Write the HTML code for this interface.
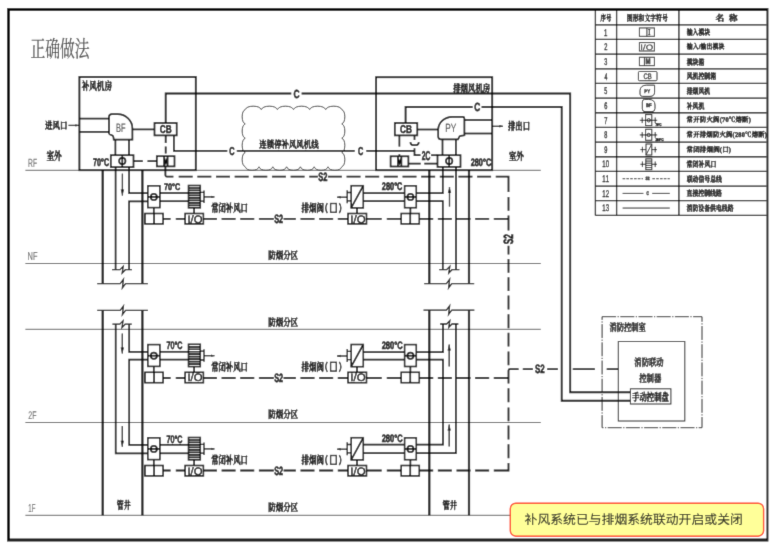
<!DOCTYPE html>
<html lang="zh"><head><meta charset="utf-8"><title>正确做法</title>
<style>
html,body{margin:0;padding:0;background:#fff}
svg{display:block}
text{font-family:"Liberation Sans",sans-serif;font-kerning:none;text-rendering:geometricPrecision}
text.cs{font-family:"Liberation Serif","Noto Serif CJK SC",serif}
text.cg{font-family:"Liberation Sans","Noto Sans CJK SC",sans-serif}
.l{fill:none;stroke:#0c0c0c;stroke-width:1.7}
.k{fill:none;stroke:#0c0c0c;stroke-width:1.85}
.t{fill:none;stroke:#111;stroke-width:1.3}
.u{fill:none;stroke:#242424;stroke-width:1}
.d{fill:none;stroke:#0c0c0c;stroke-width:1.8}
.f{fill:none;stroke:#5e5e5e;stroke-width:1}
.s{fill:none;stroke:#0a0a0a;stroke-width:2.2}
.g{fill:none;stroke:#262626;stroke-width:.9}
.w{fill:#fff;stroke:#0c0c0c;stroke-width:1.55}
</style></head>
<body>
<svg width="772" height="548" viewBox="0 0 772 548">
<defs><filter id="soft" x="0" y="0" width="772" height="548" filterUnits="userSpaceOnUse"><feConvolveMatrix order="3" kernelMatrix="0.012 0.086 0.012 0.086 0.608 0.086 0.012 0.086 0.012" edgeMode="duplicate" preserveAlpha="true"/></filter></defs>
<g filter="url(#soft)">
<rect width="772" height="548" fill="#fff"/>
<path class="f" d="M25.4 170.3L540.8 170.3"/>
<path class="f" d="M25.4 263.5L540.8 263.5"/>
<path class="f" d="M25.4 329.3L540.8 329.3"/>
<path class="f" d="M25.4 422.5L540.8 422.5"/>
<path class="f" d="M25.4 515.3L540.8 515.3"/>
<text transform="matrix(0.3386 0 0 0.5887 28.04 166.9)" font-size="20" font-weight="normal" fill="#6e6e6e" stroke="#6e6e6e" stroke-width="0.27">RF</text>
<text transform="matrix(0.3716 0 0 0.5814 27.59 259.9)" font-size="20" font-weight="normal" fill="#6e6e6e" stroke="#6e6e6e" stroke-width="0.26">NF</text>
<text transform="matrix(0.3483 0 0 0.5585 28.35 419.4)" font-size="20" font-weight="normal" fill="#6e6e6e" stroke="#6e6e6e" stroke-width="0.27">2F</text>
<text transform="matrix(0.3045 0 0 0.5814 28.34 511.8)" font-size="20" font-weight="normal" fill="#6e6e6e" stroke="#6e6e6e" stroke-width="0.29">1F</text>
<text class="cs" transform="matrix(0.7415 0 0 1.1425 30.38 57.39)" font-size="20" font-weight="normal" fill="#484848" stroke="#484848" stroke-width="0.2" stroke-linejoin="round">正确做法</text>
<rect class="k" x="79.4" y="77" width="116.4" height="93.2"/>
<text class="cs" transform="matrix(0.379 0 0 0.5555 81.69 89.98)" font-size="20" font-weight="bold" fill="#111" stroke="#111" stroke-width="0.92" stroke-linejoin="round">补风机房</text>
<text class="cs" transform="matrix(0.374 0 0 0.4955 45.07 129.3)" font-size="20" font-weight="bold" fill="#111" stroke="#111" stroke-width="0.98" stroke-linejoin="round">进风口</text>
<path class="t" d="M68.5 125.4L79 125.4"/>
<path fill="#111" d="M79 125.4L75.4 126.6L75.4 124.2Z"/>
<text class="cs" transform="matrix(0.3845 0 0 0.564 46.38 159.67)" font-size="20" font-weight="bold" fill="#111" stroke="#111" stroke-width="0.9" stroke-linejoin="round">室外</text>
<path class="l" d="M79.4 118.6L109 118.6"/>
<path class="l" d="M79.4 131.9L109 131.9"/>
<path class="l" d="M109 133.6L109 117Q109 114.2 111.8 114.2L117.6 114.2A14.8 14.1 0 0 1 132.4 128.3L132.4 139.6L113.7 139.6L113.5 137.4Q113.3 135.6 111.6 135.2Q109.3 134.7 109 133.6Z"/>
<text transform="matrix(0.3720 0 0 0.6177 115.99 131.7)" font-size="20" font-weight="normal" fill="#505050" stroke="#505050" stroke-width="0.31">BF</text>
<path class="l" d="M115.4 139.6L115.4 155.2"/>
<path class="l" d="M129 139.6L129 155.2"/>
<rect class="l" x="110.8" y="155.2" width="22.7" height="11.9"/>
<circle class="l" cx="122.3" cy="161.1" r="3.2"/>
<path class="l" d="M122.3 155.2L122.3 167.1"/>
<text transform="matrix(0.3581 0 0 0.5579 93.09 166.39)" font-size="20" font-weight="bold" fill="#111" stroke="#111" stroke-width="1.01">70°C</text>
<path class="l" d="M132.4 129.4L154.5 129.4"/>
<rect class="l" x="154.5" y="123" width="22.2" height="12.4"/>
<text transform="matrix(0.4124 0 0 0.5650 159.86 133.19)" font-size="20" font-weight="bold" fill="#111" stroke="#111" stroke-width="0.93">CB</text>
<path class="k" d="M165.7 123L165.7 93.5L291.3 93.5"/>
<path class="k" d="M301.6 93.5L570.2 93.5L570.2 392.2L630.4 392.2"/>
<text transform="matrix(0.4206 0 0 0.5862 293.55 97.59)" font-size="20" font-weight="bold" fill="#111" stroke="#111" stroke-width="0.91">C</text>
<path class="l" d="M173.9 135.4L173.9 150.8L227.3 150.8"/>
<path class="l" d="M236.8 150.8L354.7 150.8"/>
<text transform="matrix(0.3671 0 0 0.5720 229.2 155.19)" font-size="20" font-weight="bold" fill="#111" stroke="#111" stroke-width="0.98">C</text>
<text transform="matrix(0.3671 0 0 0.5720 358 155.19)" font-size="20" font-weight="bold" fill="#111" stroke="#111" stroke-width="0.98">C</text>
<path class="l" d="M366.3 150.8L414.5 150.8"/>
<path class="d" d="M165.7 135.4L165.7 143M165.7 146.6L165.7 153.6"/>
<rect class="l" x="156.8" y="156.2" width="17.7" height="10.2"/>
<path class="l" d="M164.1 166.4V156.2M167.6 166.4V156.2M164.1 157.6L165.85 163L167.6 157.6"/>
<path class="d" d="M133.5 161.1L142.8 161.1M147.5 161.1L156.8 161.1"/>
<path class="g" d="M245.2 109.6A8.29 4.47 0 0 1 261.3 109.6A8.29 4.47 0 0 1 277.4 109.6A8.29 4.47 0 0 1 293.5 109.6A8.29 4.47 0 0 1 309.6 109.6A8.29 4.47 0 0 1 325.7 109.6A8.29 4.47 0 0 1 341.8 109.6A3.95 7.36 0 0 1 341.8 123.9A3.95 7.36 0 0 1 341.8 138.2A3.95 7.36 0 0 1 341.8 152.5A3.95 7.36 0 0 1 341.8 166.8A7.11 4.61 0 0 1 328 166.8A7.11 4.61 0 0 1 314.2 166.8A7.11 4.61 0 0 1 300.4 166.8A7.11 4.61 0 0 1 286.6 166.8A7.11 4.61 0 0 1 272.8 166.8A7.11 4.61 0 0 1 259 166.8A7.11 4.61 0 0 1 245.2 166.8A3.95 7.36 0 0 1 245.2 152.5A3.95 7.36 0 0 1 245.2 138.2A3.95 7.36 0 0 1 245.2 123.9A3.95 7.36 0 0 1 245.2 109.6Z"/>
<text class="cs" transform="matrix(0.37 0 0 0.4995 259.34 147.98)" font-size="20" font-weight="bold" fill="#111" stroke="#111" stroke-width="0.98" stroke-linejoin="round">连锁停补风风机线</text>
<rect class="k" x="376.1" y="77.2" width="116.1" height="93"/>
<text class="cs" transform="matrix(0.37 0 0 0.5185 453.2 91.65)" font-size="20" font-weight="bold" fill="#111" stroke="#111" stroke-width="0.96" stroke-linejoin="round">排烟风机房</text>
<rect class="l" x="394.8" y="123" width="22.5" height="12.4"/>
<text transform="matrix(0.4124 0 0 0.5650 400.06 133.19)" font-size="20" font-weight="bold" fill="#111" stroke="#111" stroke-width="0.93">CB</text>
<path class="k" d="M405.6 123L405.6 107L472.6 107"/>
<path class="k" d="M481.6 107L561.7 107L561.7 400.7L630.4 400.7"/>
<text transform="matrix(0.4206 0 0 0.5932 474.35 111.08)" font-size="20" font-weight="bold" fill="#111" stroke="#111" stroke-width="0.9">C</text>
<path class="l" d="M417.3 129.5L438.2 129.5"/>
<path class="l" d="M438.2 136.5L438.2 129.6A14.1 12.8 0 0 1 452.3 116.8L462.8 116.8Q464.4 116.8 464.4 118.4L464.4 135.3L460.6 135.8Q459.2 136 459 137.5L458 139.3L440.9 139.3Q438.2 139.3 438.2 136.5Z"/>
<text transform="matrix(0.4146 0 0 0.5959 445.22 132.4)" font-size="20" font-weight="normal" fill="#505050" stroke="#505050" stroke-width="0.3">PY</text>
<path class="l" d="M464.4 120L492.2 120"/>
<path class="l" d="M464.4 133.5L492.2 133.5"/>
<path class="t" d="M492.2 126.3L503 126.3"/>
<path fill="#111" d="M503 126.3L499.4 127.5L499.4 125.1Z"/>
<text class="cs" transform="matrix(0.3685 0 0 0.538 507.9 129.63)" font-size="20" font-weight="bold" fill="#111" stroke="#111" stroke-width="0.94" stroke-linejoin="round">排出口</text>
<text class="cs" transform="matrix(0.3795 0 0 0.532 508.68 160.43)" font-size="20" font-weight="bold" fill="#111" stroke="#111" stroke-width="0.94" stroke-linejoin="round">室外</text>
<path class="l" d="M442.5 139.3L442.5 155.2"/>
<path class="l" d="M455.9 139.3L455.9 155.2"/>
<rect class="l" x="437.5" y="155.2" width="23" height="11.7"/>
<circle class="l" cx="449.2" cy="161.1" r="3.2"/>
<path class="l" d="M449.2 155.2L449.2 166.9"/>
<text transform="matrix(0.3683 0 0 0.5438 470.64 166.39)" font-size="20" font-weight="bold" fill="#111" stroke="#111" stroke-width="1.01">280°C</text>
<rect class="l" x="390.6" y="156.3" width="17.8" height="10.2"/>
<path class="l" d="M397.9 166.5V156.3M401.4 166.5V156.3M397.9 157.7L399.65 163.1L401.4 157.7"/>
<path class="d" d="M408.4 163.7L420.7 163.7M424.3 163.7L437.5 163.7"/>
<path class="l" d="M399.4 135.4L399.4 146.6"/>
<path class="l" d="M399.4 154.2L399.4 156.3"/>
<path class="l" d="M410.4 142.2q0.3 3 2.6 3h3.2q2.3 0 2.6 -3"/>
<path class="l" d="M414.5 135.4L414.5 140"/>
<path class="l" d="M414.5 148.2L414.5 155.2L420.5 155.2"/>
<text transform="matrix(0.3371 0 0 0.6356 421.67 159.88)" font-size="20" font-weight="bold" fill="#111" stroke="#111" stroke-width="0.97">2C</text>
<path class="l" d="M431 155.2L437.5 155.2"/>
<path class="s" d="M102.7 170.2L102.7 283.6"/>
<path class="s" d="M142.4 170.2L142.4 283.6"/>
<path class="s" d="M102.7 310.7L102.7 515.3"/>
<path class="s" d="M142.4 310.7L142.4 515.3"/>
<path class="t" d="M97.2 283.6L120.2 283.6L123.4 279.3L122.4 287.9L125.6 283.6L147.9 283.6"/>
<path class="t" d="M97.2 310.4L120.2 310.4L123.4 306.1L122.4 314.7L125.6 310.4L147.9 310.4"/>
<path class="l" d="M115.6 167.1L115.6 269.7"/>
<path class="l" d="M129.1 167.1L129.1 193.1L147.8 193.1"/>
<path class="l" d="M147.8 201.3L129.1 201.3L129.1 269.7"/>
<path class="t" d="M112 269.7L120 269.7L123.2 266.4L122.2 273L125.4 269.7L132 269.7"/>
<path class="t" d="M112.4 324.2L119.8 324.2L123 320.9L122 327.5L125.2 324.2L131.8 324.2"/>
<path class="l" d="M115.7 324.4L115.7 453.3L147.8 453.3"/>
<path class="l" d="M129.2 324.4L129.2 351.8L147.8 351.8"/>
<path class="l" d="M147.8 359.6L129.2 359.6L129.2 444.8L147.8 444.8"/>
<path class="t" d="M122.4 173.6L122.4 195.6"/>
<path fill="#111" d="M122.4 195.6L120.7 189.6L124.1 189.6Z"/>
<path class="t" d="M122.3 333.5L122.3 353.6"/>
<path fill="#111" d="M122.3 353.6L120.6 347.6L124 347.6Z"/>
<path class="t" d="M122.3 425.9L122.3 446.8"/>
<path fill="#111" d="M122.3 446.8L120.6 440.8L124 440.8Z"/>
<text class="cs" transform="matrix(0.3475 0 0 0.539 116.79 509.12)" font-size="20" font-weight="bold" fill="#111" stroke="#111" stroke-width="0.98" stroke-linejoin="round">管井</text>
<path class="s" d="M429.3 170.2L429.3 283.6"/>
<path class="s" d="M469 170.2L469 283.6"/>
<path class="s" d="M429.3 310.2L429.3 515.3"/>
<path class="s" d="M469 310.2L469 515.3"/>
<path class="t" d="M424.2 283.6L446.4 283.6L449.6 279.3L448.6 287.9L451.8 283.6L474.2 283.6"/>
<path class="t" d="M423.5 310.2L446.4 310.2L449.6 305.9L448.6 314.5L451.8 310.2L474.4 310.2"/>
<path class="l" d="M456 166.9L456 269.7"/>
<path class="l" d="M442.8 166.9L442.8 193.1L416.3 193.1"/>
<path class="l" d="M416.3 201.1L442.8 201.1L442.8 269.7"/>
<path class="t" d="M439.2 269.7L446.6 269.7L449.8 266.4L448.8 273L452 269.7L459.4 269.7"/>
<path class="t" d="M440.1 324L446.6 324L449.8 320.7L448.8 327.3L452 324L458.4 324"/>
<path class="l" d="M455.9 324L455.9 453.2L416.3 453.2"/>
<path class="l" d="M443 324L443 352.1L416.3 352.1"/>
<path class="l" d="M416.3 359.6L443 359.6L443 444.7L416.3 444.7"/>
<path class="t" d="M449.5 206.6L449.5 187"/>
<path fill="#111" d="M449.5 187L451.2 193L447.8 193Z"/>
<path class="t" d="M449.2 366.4L449.2 344.4"/>
<path fill="#111" d="M449.2 344.4L450.9 350.4L447.5 350.4Z"/>
<path class="t" d="M449.2 446.6L449.2 424.6"/>
<path fill="#111" d="M449.2 424.6L450.9 430.6L447.5 430.6Z"/>
<text class="cs" transform="matrix(0.368 0 0 0.5235 442.48 509.25)" font-size="20" font-weight="bold" fill="#111" stroke="#111" stroke-width="0.96" stroke-linejoin="round">管井</text>
<path class="d" d="M163.1 218.8L170.6 218.8M175.8 218.8L185.1 218.8M203.4 218.8L216.95 218.8M221.6 218.8L235.6 218.8M240.25 218.8L254.25 218.8M258.9 218.8L273.8 218.8M283.6 218.8L295.85 218.8M300.5 218.8L314.5 218.8M319.15 218.8L333.15 218.8M337.8 218.8L348 218.8M366.5 218.8L381.7 218.8M386.8 218.8L401.2 218.8M419.2 218.8L433.2 218.8M437.85 218.8L451.85 218.8M456.5 218.8L470.5 218.8M475.15 218.8L489.15 218.8M493.8 218.8L508.6 218.8"/>
<text transform="matrix(0.3682 0 0 0.6073 274.19 222.98)" font-size="20" font-weight="bold" fill="#111" stroke="#111" stroke-width="0.95">S2</text>
<rect class="w" x="147.8" y="185.8" width="12.1" height="21.8"/>
<circle class="l" cx="153.85" cy="196.9" r="3.1"/>
<path class="l" d="M147.8 196.9L159.9 196.9"/>
<path class="l" d="M159.9 193L188.5 193"/>
<path class="l" d="M159.9 201.2L188.5 201.2"/>
<rect class="w" x="188.5" y="185.5" width="11.8" height="22.3"/>
<path class="l" d="M188.5 187.98H200.3M188.5 190.46H200.3M188.5 192.93H200.3M188.5 195.41H200.3M188.5 197.89H200.3M188.5 200.37H200.3M188.5 202.84H200.3M188.5 205.32H200.3" stroke-width="1.45"/>
<path class="t" d="M200.3 192.4H204M200.3 201.2H204M204 190.4V202.9"/>
<path class="t" d="M204 196.9L214.5 196.9"/>
<path fill="#111" d="M214.5 196.9L211.1 198L211.1 195.8Z"/>
<text transform="matrix(0.3651 0 0 0.4802 163.99 189.61)" font-size="20" font-weight="bold" fill="#111" stroke="#111" stroke-width="1.07">70°C</text>
<text class="cs" transform="matrix(0.3675 0 0 0.5505 211.13 212)" font-size="20" font-weight="bold" fill="#111" stroke="#111" stroke-width="0.94" stroke-linejoin="round">常闭补风口</text>
<path class="l" d="M153.8 207.6L153.8 213.5"/>
<path class="l" d="M194.1 207.8L194.1 213.5"/>
<rect class="w" x="145" y="213.5" width="18.1" height="10.4"/>
<path class="l" d="M154.05 213.5L154.05 223.9"/>
<path fill="#111" d="M152.35 223.9L154.05 221.9L155.75 223.9Z"/>
<rect class="w" x="185.1" y="213.5" width="18.3" height="10.4"/>
<text transform="matrix(0.5656 0 0 0.5311 187.46 222.5)" font-size="20" font-weight="normal" fill="#111" stroke="#111" stroke-width="0.82">I/O</text>
<rect class="w" x="351.2" y="185.7" width="12.1" height="22.2"/>
<path class="l" d="M351.2 207.9L363.3 185.7"/>
<path class="t" d="M351.2 192.5H347.2M351.2 200.9H347.2M347.2 190.3V203.3"/>
<path class="t" d="M347.2 197.2L337 197.2"/>
<path fill="#111" d="M337 197.2L340.6 195.95L340.6 198.45Z"/>
<path class="l" d="M363.3 193.2L404.6 193.2"/>
<path class="l" d="M363.3 201.2L404.6 201.2"/>
<rect class="w" x="404.6" y="185.8" width="11.7" height="21.9"/>
<circle class="l" cx="410.45" cy="196.9" r="3.1"/>
<path class="l" d="M404.6 196.9L416.3 196.9"/>
<text transform="matrix(0.3683 0 0 0.5508 381.84 189.89)" font-size="20" font-weight="bold" fill="#111" stroke="#111" stroke-width="1">280°C</text>
<g><title>排烟阀(口)</title>
<text class="cs" transform="matrix(0.3725 0 0 0.551 301.6 211.91)" font-size="20" font-weight="bold" fill="#111" stroke="#111" stroke-width="0.92" stroke-linejoin="round">排烟阀</text>
<path class="t" d="M327.3 203.1Q324.2 207.9 327.3 213.2"/>
<rect class="t" x="330.6" y="203.5" width="5.7" height="8.8"/>
<path class="t" d="M339.3 203.1Q342.4 207.9 339.3 213.2"/>
</g>
<path class="l" d="M357 207.9L357 213.5"/>
<path class="l" d="M410.4 207.7L410.4 213.5"/>
<rect class="w" x="348" y="213.5" width="18.5" height="10.4"/>
<text transform="matrix(0.5740 0 0 0.5311 350.34 222.5)" font-size="20" font-weight="normal" fill="#111" stroke="#111" stroke-width="0.82">I/O</text>
<rect class="w" x="401.2" y="213.5" width="18.1" height="10.4"/>
<path class="l" d="M410.25 213.5L410.25 223.9"/>
<path fill="#111" d="M408.55 223.9L410.25 221.9L411.95 223.9Z"/>
<path class="d" d="M163.1 378L170.6 378M175.8 378L185.1 378M203.4 378L216.95 378M221.6 378L235.6 378M240.25 378L254.25 378M258.9 378L273.8 378M283.6 378L295.85 378M300.5 378L314.5 378M319.15 378L333.15 378M337.8 378L348 378M366.5 378L381.7 378M386.8 378L401.2 378M419.2 378L433.2 378M437.85 378L451.85 378M456.5 378L470.5 378M475.15 378L489.15 378"/>
<text transform="matrix(0.3682 0 0 0.6073 274.19 382.18)" font-size="20" font-weight="bold" fill="#111" stroke="#111" stroke-width="0.95">S2</text>
<rect class="w" x="147.8" y="344.6" width="12.1" height="21.8"/>
<circle class="l" cx="153.85" cy="355.7" r="3.1"/>
<path class="l" d="M147.8 355.7L159.9 355.7"/>
<path class="l" d="M159.9 351.8L188.5 351.8"/>
<path class="l" d="M159.9 359.6L188.5 359.6"/>
<rect class="w" x="188.5" y="344.3" width="11.8" height="22.3"/>
<path class="l" d="M188.5 346.78H200.3M188.5 349.26H200.3M188.5 351.73H200.3M188.5 354.21H200.3M188.5 356.69H200.3M188.5 359.17H200.3M188.5 361.64H200.3M188.5 364.12H200.3" stroke-width="1.45"/>
<path class="t" d="M200.3 351.2H204M200.3 360H204M204 349.2V361.7"/>
<path class="t" d="M204 355.7L214.5 355.7"/>
<path fill="#111" d="M214.5 355.7L211.1 356.8L211.1 354.6Z"/>
<text transform="matrix(0.3604 0 0 0.5438 166.39 349.49)" font-size="20" font-weight="bold" fill="#111" stroke="#111" stroke-width="1.02">70°C</text>
<text class="cs" transform="matrix(0.3675 0 0 0.5505 211.13 370.8)" font-size="20" font-weight="bold" fill="#111" stroke="#111" stroke-width="0.94" stroke-linejoin="round">常闭补风口</text>
<path class="l" d="M153.8 366.4L153.8 372.3"/>
<path class="l" d="M194.1 366.6L194.1 372.3"/>
<rect class="w" x="145" y="372.3" width="18.1" height="10.4"/>
<path class="l" d="M154.05 372.3L154.05 382.7"/>
<path fill="#111" d="M152.35 382.7L154.05 380.7L155.75 382.7Z"/>
<rect class="w" x="185.1" y="372.3" width="18.3" height="10.4"/>
<text transform="matrix(0.5656 0 0 0.5311 187.46 381.3)" font-size="20" font-weight="normal" fill="#111" stroke="#111" stroke-width="0.82">I/O</text>
<rect class="w" x="351.2" y="344.5" width="12.1" height="22.2"/>
<path class="l" d="M351.2 366.7L363.3 344.5"/>
<path class="t" d="M351.2 351.3H347.2M351.2 359.7H347.2M347.2 349.1V362.1"/>
<path class="t" d="M347.2 356L337 356"/>
<path fill="#111" d="M337 356L340.6 354.75L340.6 357.25Z"/>
<path class="l" d="M363.3 352.1L404.6 352.1"/>
<path class="l" d="M363.3 359.6L404.6 359.6"/>
<rect class="w" x="404.6" y="344.6" width="11.7" height="21.9"/>
<circle class="l" cx="410.45" cy="355.7" r="3.1"/>
<path class="l" d="M404.6 355.7L416.3 355.7"/>
<text transform="matrix(0.3775 0 0 0.5438 381.64 349.19)" font-size="20" font-weight="bold" fill="#111" stroke="#111" stroke-width="0.99">280°C</text>
<g><title>排烟阀(口)</title>
<text class="cs" transform="matrix(0.3725 0 0 0.551 301.6 370.71)" font-size="20" font-weight="bold" fill="#111" stroke="#111" stroke-width="0.92" stroke-linejoin="round">排烟阀</text>
<path class="t" d="M327.3 361.9Q324.2 366.7 327.3 372"/>
<rect class="t" x="330.6" y="362.3" width="5.7" height="8.8"/>
<path class="t" d="M339.3 361.9Q342.4 366.7 339.3 372"/>
</g>
<path class="l" d="M357 366.7L357 372.3"/>
<path class="l" d="M410.4 366.5L410.4 372.3"/>
<rect class="w" x="348" y="372.3" width="18.5" height="10.4"/>
<text transform="matrix(0.5740 0 0 0.5311 350.34 381.3)" font-size="20" font-weight="normal" fill="#111" stroke="#111" stroke-width="0.82">I/O</text>
<rect class="w" x="401.2" y="372.3" width="18.1" height="10.4"/>
<path class="l" d="M410.25 372.3L410.25 382.7"/>
<path fill="#111" d="M408.55 382.7L410.25 380.7L411.95 382.7Z"/>
<path class="d" d="M163.1 470.5L170.6 470.5M175.8 470.5L185.1 470.5M203.4 470.5L216.95 470.5M221.6 470.5L235.6 470.5M240.25 470.5L254.25 470.5M258.9 470.5L273.8 470.5M283.6 470.5L295.85 470.5M300.5 470.5L314.5 470.5M319.15 470.5L333.15 470.5M337.8 470.5L348 470.5M366.5 470.5L381.7 470.5M386.8 470.5L401.2 470.5M419.2 470.5L433.2 470.5M437.85 470.5L451.85 470.5M456.5 470.5L470.5 470.5M475.15 470.5L489.15 470.5"/>
<text transform="matrix(0.3682 0 0 0.6073 274.19 474.68)" font-size="20" font-weight="bold" fill="#111" stroke="#111" stroke-width="0.95">S2</text>
<rect class="w" x="147.8" y="437.8" width="12.1" height="21.8"/>
<circle class="l" cx="153.85" cy="448.9" r="3.1"/>
<path class="l" d="M147.8 448.9L159.9 448.9"/>
<path class="l" d="M159.9 444.8L188.5 444.8"/>
<path class="l" d="M159.9 453.3L188.5 453.3"/>
<rect class="w" x="188.5" y="437.5" width="11.8" height="22.3"/>
<path class="l" d="M188.5 439.98H200.3M188.5 442.46H200.3M188.5 444.93H200.3M188.5 447.41H200.3M188.5 449.89H200.3M188.5 452.37H200.3M188.5 454.84H200.3M188.5 457.32H200.3" stroke-width="1.45"/>
<path class="t" d="M200.3 444.4H204M200.3 453.2H204M204 442.4V454.9"/>
<path class="t" d="M204 448.9L214.5 448.9"/>
<path fill="#111" d="M214.5 448.9L211.1 450L211.1 447.8Z"/>
<text transform="matrix(0.3604 0 0 0.5438 166.39 442.69)" font-size="20" font-weight="bold" fill="#111" stroke="#111" stroke-width="1.02">70°C</text>
<text class="cs" transform="matrix(0.3675 0 0 0.5505 211.13 464)" font-size="20" font-weight="bold" fill="#111" stroke="#111" stroke-width="0.94" stroke-linejoin="round">常闭补风口</text>
<path class="l" d="M153.8 459.6L153.8 465.5"/>
<path class="l" d="M194.1 459.8L194.1 465.5"/>
<rect class="w" x="145" y="465.5" width="18.1" height="10.4"/>
<path class="l" d="M154.05 465.5L154.05 475.9"/>
<path fill="#111" d="M152.35 475.9L154.05 473.9L155.75 475.9Z"/>
<rect class="w" x="185.1" y="465.5" width="18.3" height="10.4"/>
<text transform="matrix(0.5656 0 0 0.5311 187.46 474.5)" font-size="20" font-weight="normal" fill="#111" stroke="#111" stroke-width="0.82">I/O</text>
<rect class="w" x="351.2" y="437.7" width="12.1" height="22.2"/>
<path class="l" d="M351.2 459.9L363.3 437.7"/>
<path class="t" d="M351.2 444.5H347.2M351.2 452.9H347.2M347.2 442.3V455.3"/>
<path class="t" d="M347.2 449.2L337 449.2"/>
<path fill="#111" d="M337 449.2L340.6 447.95L340.6 450.45Z"/>
<path class="l" d="M363.3 444.7L404.6 444.7"/>
<path class="l" d="M363.3 453.2L404.6 453.2"/>
<rect class="w" x="404.6" y="437.8" width="11.7" height="21.9"/>
<circle class="l" cx="410.45" cy="448.9" r="3.1"/>
<path class="l" d="M404.6 448.9L416.3 448.9"/>
<text transform="matrix(0.3775 0 0 0.5438 381.64 442.39)" font-size="20" font-weight="bold" fill="#111" stroke="#111" stroke-width="0.99">280°C</text>
<g><title>排烟阀(口)</title>
<text class="cs" transform="matrix(0.3725 0 0 0.551 301.6 463.91)" font-size="20" font-weight="bold" fill="#111" stroke="#111" stroke-width="0.92" stroke-linejoin="round">排烟阀</text>
<path class="t" d="M327.3 455.1Q324.2 459.9 327.3 465.2"/>
<rect class="t" x="330.6" y="455.5" width="5.7" height="8.8"/>
<path class="t" d="M339.3 455.1Q342.4 459.9 339.3 465.2"/>
</g>
<path class="l" d="M357 459.9L357 465.5"/>
<path class="l" d="M410.4 459.7L410.4 465.5"/>
<rect class="w" x="348" y="465.5" width="18.5" height="10.4"/>
<text transform="matrix(0.5740 0 0 0.5311 350.34 474.5)" font-size="20" font-weight="normal" fill="#111" stroke="#111" stroke-width="0.82">I/O</text>
<rect class="w" x="401.2" y="465.5" width="18.1" height="10.4"/>
<path class="l" d="M410.25 465.5L410.25 475.9"/>
<path fill="#111" d="M408.55 475.9L410.25 473.9L411.95 475.9Z"/>
<text class="cs" transform="matrix(0.3745 0 0 0.517 268.15 259.36)" font-size="20" font-weight="bold" fill="#111" stroke="#111" stroke-width="0.96" stroke-linejoin="round">防烟分区</text>
<text class="cs" transform="matrix(0.3745 0 0 0.517 268.15 326.16)" font-size="20" font-weight="bold" fill="#111" stroke="#111" stroke-width="0.96" stroke-linejoin="round">防烟分区</text>
<text class="cs" transform="matrix(0.3745 0 0 0.517 268.15 417.96)" font-size="20" font-weight="bold" fill="#111" stroke="#111" stroke-width="0.96" stroke-linejoin="round">防烟分区</text>
<text class="cs" transform="matrix(0.3745 0 0 0.517 268.15 510.56)" font-size="20" font-weight="bold" fill="#111" stroke="#111" stroke-width="0.96" stroke-linejoin="round">防烟分区</text>
<path class="d" d="M165.4 166.4V175.2Q165.4 176.7 166.9 176.7H173.4"/>
<path class="d" d="M178.7 176.7L192.7 176.7M197.35 176.7L211.35 176.7M216 176.7L230 176.7M234.65 176.7L248.65 176.7M253.3 176.7L267.3 176.7M271.95 176.7L285.95 176.7M290.6 176.7L304.6 176.7M309.25 176.7L317.9 176.7M327.9 176.7L341.9 176.7M346.55 176.7L360.55 176.7M365.2 176.7L379.2 176.7M383.85 176.7L397.85 176.7M402.5 176.7L416.5 176.7M421.15 176.7L435.15 176.7M439.8 176.7L453.8 176.7M458.45 176.7L472.45 176.7M477.1 176.7L491.1 176.7"/>
<text transform="matrix(0.3769 0 0 0.6073 318.28 180.88)" font-size="20" font-weight="bold" fill="#111" stroke="#111" stroke-width="0.94">S2</text>
<path class="d" d="M495.75 176.7H508.5V191.9"/>
<path class="d" d="M508.5 197L508.5 210.8M508.5 215.5L508.5 230.6M508.5 245.8L508.5 254.6M508.5 259L508.5 272.8M508.5 277.3L508.5 291.1M508.5 295.6L508.5 309.4M508.5 314.3L508.5 328.2M508.5 332.7L508.5 346.6M508.5 351.4L508.5 365.3M508.5 388.2L508.5 402.3M508.5 407.4L508.5 421.2M508.5 425.6L508.5 439.6M508.5 444.2L508.5 458.3"/>
<text transform="rotate(-90 508.45 239.15) matrix(0.4202 0 0 0.6709 503.36 243.77)" font-size="20" font-weight="bold" fill="#111" stroke="#111" stroke-width="0.85">S2</text>
<path class="d" d="M493.8 378H508.5M508.5 383.6V370.4Q508.5 369.1 509.8 369.1H518.6"/>
<path class="d" d="M522.8 369.1L532.9 369.1M547.2 369.1L557.9 369.1M572.8 369.1L594.9 369.1M606.7 369.1L618.3 369.1"/>
<text transform="matrix(0.3985 0 0 0.6073 534.97 373.28)" font-size="20" font-weight="bold" fill="#111" stroke="#111" stroke-width="0.91">S2</text>
<path class="d" d="M493.8 470.5H508.5V463"/>
<rect class="u" x="602.1" y="316.7" width="99.9" height="111" stroke-dasharray="14 1.5 1.2 1.5" stroke="#555" stroke-width="1"/>
<rect class="u" x="618.3" y="341.5" width="66.5" height="79.5" stroke="#444" stroke-width="1.05"/>
<text class="cs" transform="matrix(0.363 0 0 0.5165 609.58 330.57)" font-size="20" font-weight="bold" fill="#2a2a2a" stroke="#2a2a2a" stroke-width="0.98" stroke-linejoin="round">消防控制室</text>
<text class="cs" transform="matrix(0.365 0 0 0.51 634.37 365.77)" font-size="20" font-weight="bold" fill="#2a2a2a" stroke="#2a2a2a" stroke-width="0.98" stroke-linejoin="round">消防联动</text>
<text class="cs" transform="matrix(0.368 0 0 0.51 639.17 382.06)" font-size="20" font-weight="bold" fill="#2a2a2a" stroke="#2a2a2a" stroke-width="0.96" stroke-linejoin="round">控制器</text>
<rect class="u" x="630.4" y="388.8" width="40.5" height="15.2" fill="#fff" stroke="#444" stroke-width="1.05"/>
<text class="cs" transform="matrix(0.3685 0 0 0.5415 632.11 401.21)" font-size="20" font-weight="bold" fill="#1a1a1a" stroke="#1a1a1a" stroke-width="0.94" stroke-linejoin="round">手动控制盘</text>
<path class="t" d="M595.4 10V215.38M616.6 10V215.38M678.9 10V215.38"/>
<path class="t" d="M595.4 24.8H766.5M595.4 39.46H766.5M595.4 54.12H766.5M595.4 68.78H766.5M595.4 83.44H766.5M595.4 98.1H766.5M595.4 112.76H766.5M595.4 127.42H766.5M595.4 142.08H766.5M595.4 156.74H766.5M595.4 171.4H766.5M595.4 186.06H766.5M595.4 200.72H766.5M595.4 215.38H766.5"/>
<text class="cs" transform="matrix(0.269 0 0 0.424 600.59 20.62)" font-size="20" font-weight="bold" fill="#222" stroke="#222" stroke-width="1.24" stroke-linejoin="round">序号</text>
<text class="cs" transform="matrix(0.2925 0 0 0.424 626.83 20.62)" font-size="20" font-weight="bold" fill="#222" stroke="#222" stroke-width="1.2" stroke-linejoin="round">图形和文字符号</text>
<text class="cs" transform="matrix(0.4435 0 0 0.4235 715.54 20.62)" x="0 30" font-size="20" font-weight="bold" fill="#222" stroke="#222" stroke-width="0.96" stroke-linejoin="round">名称</text>
<text transform="matrix(0.3015 0 0 0.4942 604.04 35.63)" font-size="20" font-weight="normal" fill="#222" stroke="#222" stroke-width="0.78">1</text>
<text class="cs" transform="matrix(0.293 0 0 0.3945 686.75 35.2)" font-size="20" font-weight="bold" fill="#222" stroke="#222" stroke-width="1.24" stroke-linejoin="round">输入模块</text>
<rect class="u" x="639.4" y="27.93" width="15" height="8.4"/>
<path class="u" d="M646.9 27.93V36.33"/>
<path class="u" d="M649.3 29.53V34.73M648.3 29.53H650.3M648.3 34.73H650.3"/>
<text transform="matrix(0.2854 0 0 0.4869 604.21 50.29)" font-size="20" font-weight="normal" fill="#222" stroke="#222" stroke-width="0.8">2</text>
<text class="cs" transform="matrix(0.294 0 0 0.362 686.75 49.29)" font-size="20" font-weight="bold" fill="#222" stroke="#222" stroke-width="1.28" stroke-linejoin="round" textLength="128" lengthAdjust="spacing">输入/输出模块</text>
<rect class="u" x="639.4" y="42.59" width="15" height="8.4"/>
<text transform="matrix(0.4776 0 0 0.3949 640.32 49.61)" font-size="20" font-weight="normal" fill="#222" stroke="#222" stroke-width="0.46">I/O</text>
<text transform="matrix(0.2742 0 0 0.4802 604.29 64.86)" font-size="20" font-weight="normal" fill="#222" stroke="#222" stroke-width="0.83">3</text>
<text class="cs" transform="matrix(0.2945 0 0 0.398 686.69 64.53)" font-size="20" font-weight="bold" fill="#222" stroke="#222" stroke-width="1.22" stroke-linejoin="round">模块箱</text>
<rect class="u" x="639.4" y="57.25" width="15" height="8.4"/>
<path class="u" d="M644.4 57.25V65.65"/>
<text transform="matrix(0.3003 0 0 0.4070 645.6 64.25)" font-size="20" font-weight="bold" fill="#333" stroke="#333" stroke-width="1.29">M</text>
<text transform="matrix(0.2580 0 0 0.4942 604.38 79.61)" font-size="20" font-weight="normal" fill="#222" stroke="#222" stroke-width="0.84">4</text>
<text class="cs" transform="matrix(0.2945 0 0 0.3975 686.64 79.18)" font-size="20" font-weight="bold" fill="#222" stroke="#222" stroke-width="1.22" stroke-linejoin="round">风机控制箱</text>
<rect class="u" x="638.4" y="71.51" width="18.6" height="9.2" rx="1"/>
<text transform="matrix(0.2956 0 0 0.3955 643.6 78.93)" font-size="20" font-weight="normal" fill="#222" stroke="#222" stroke-width="0.73">CB</text>
<text transform="matrix(0.2742 0 0 0.4873 604.28 94.17)" font-size="20" font-weight="normal" fill="#222" stroke="#222" stroke-width="0.82">5</text>
<text class="cs" transform="matrix(0.2935 0 0 0.3985 686.72 93.84)" font-size="20" font-weight="bold" fill="#222" stroke="#222" stroke-width="1.22" stroke-linejoin="round">排烟风机</text>
<path class="u" d="M640 94.17V90.37Q640.6 85.17 646.6 85.17H654.6V92.17Q654.6 96.37 650 96.37H642.6Q640 96.37 640 94.17Z"/>
<text transform="matrix(0.2158 0 0 0.2471 644.31 92.57)" font-size="20" font-weight="bold" fill="#444" stroke="#444" stroke-width="1.95">PY</text>
<text transform="matrix(0.2817 0 0 0.4802 604.21 108.84)" font-size="20" font-weight="normal" fill="#222" stroke="#222" stroke-width="0.82">6</text>
<text class="cs" transform="matrix(0.2935 0 0 0.398 686.71 108.5)" font-size="20" font-weight="bold" fill="#222" stroke="#222" stroke-width="1.22" stroke-linejoin="round">补风机</text>
<path class="u" d="M642.3 102.03Q642.3 99.43 644.5 99.43H648.6Q655 99.43 655 105.03V108.43Q655 111.63 652 111.63H645Q642.3 111.63 642.3 108.83Z"/>
<text transform="matrix(0.2115 0 0 0.2616 645.92 107.43)" font-size="20" font-weight="bold" fill="#333" stroke="#333" stroke-width="1.91">BF</text>
<text transform="matrix(0.2860 0 0 0.4942 604.21 123.59)" font-size="20" font-weight="normal" fill="#222" stroke="#222" stroke-width="0.8">7</text>
<text class="cs" transform="matrix(0.322 0 0 0.355 686.56 122.46)" font-size="20" font-weight="bold" fill="#222" stroke="#222" stroke-width="1.24" stroke-linejoin="round" textLength="199.6" lengthAdjust="spacing">常开防火阀(70℃熔断)</text>
<rect class="u" x="645.6" y="114.59" width="6.2" height="11"/>
<circle class="u" cx="648.7" cy="120.29" r="1.7"/>
<path class="u" d="M639.8 120.29H657.2M642.2 117.49V123.09M655.2 117.49V123.09"/>
<text transform="matrix(0.1340 0 0 0.1977 655.48 126.45)" font-size="20" font-weight="bold" fill="#222" stroke="#222" stroke-width="2.76">70°C</text>
<text transform="matrix(0.2770 0 0 0.4802 604.26 138.16)" font-size="20" font-weight="normal" fill="#222" stroke="#222" stroke-width="0.82">8</text>
<text class="cs" transform="matrix(0.3195 0 0 0.355 686.57 137.12)" font-size="20" font-weight="bold" fill="#222" stroke="#222" stroke-width="1.24" stroke-linejoin="round" textLength="251.6" lengthAdjust="spacing">常开排烟防火阀(280℃熔断)</text>
<rect class="u" x="645.6" y="129.25" width="6.2" height="11"/>
<circle class="u" cx="648.7" cy="134.95" r="1.7"/>
<path class="u" d="M639.8 134.95H657.2M642.2 132.15V137.75M655.2 132.15V137.75"/>
<text transform="matrix(0.1429 0 0 0.1977 655.5 141.11)" font-size="20" font-weight="bold" fill="#222" stroke="#222" stroke-width="2.68">280°C</text>
<text transform="matrix(0.2814 0 0 0.4802 604.24 152.82)" font-size="20" font-weight="normal" fill="#222" stroke="#222" stroke-width="0.82">9</text>
<text class="cs" transform="matrix(0.3265 0 0 0.355 686.56 151.78)" font-size="20" font-weight="bold" fill="#222" stroke="#222" stroke-width="1.24" stroke-linejoin="round" textLength="136" lengthAdjust="spacing">常闭排烟阀(口)</text>
<rect class="u" x="646" y="144.01" width="5.8" height="11"/>
<path class="u" d="M646 155.01L651.8 144.01M640.4 149.61H646M651.8 149.61H657M642.4 146.81V152.41M655.2 146.81V152.41"/>
<text transform="matrix(0.3009 0 0 0.4802 602.34 167.48)" font-size="20" font-weight="normal" fill="#222" stroke="#222" stroke-width="0.79">10</text>
<text class="cs" transform="matrix(0.298 0 0 0.397 686.58 167.15)" font-size="20" font-weight="bold" fill="#222" stroke="#222" stroke-width="1.22" stroke-linejoin="round">常闭补风口</text>
<rect class="u" x="645.8" y="158.87" width="6" height="10.8"/>
<path class="u" d="M645.8 161.07H651.8M645.8 163.17H651.8M645.8 165.37H651.8M645.8 167.57H651.8M640.4 164.27H645.8M651.8 164.27H657M642.4 161.47V167.07M655.2 161.47V167.07"/>
<text transform="matrix(0.3039 0 0 0.4942 602.34 182.23)" font-size="20" font-weight="normal" fill="#222" stroke="#222" stroke-width="0.77">11</text>
<text class="cs" transform="matrix(0.2935 0 0 0.396 686.69 181.81)" font-size="20" font-weight="bold" fill="#222" stroke="#222" stroke-width="1.24" stroke-linejoin="round">联动信号总线</text>
<path class="u" d="M622.6 178.73H643M652.4 178.73H669.8" stroke-dasharray="2.6 1.2"/>
<text transform="matrix(0.1733 0 0 0.2401 645.5 180.48)" font-size="20" font-weight="bold" fill="#333" stroke="#333" stroke-width="2.21">S2</text>
<text transform="matrix(0.3043 0 0 0.4869 602.34 196.89)" font-size="20" font-weight="normal" fill="#222" stroke="#222" stroke-width="0.78">12</text>
<text class="cs" transform="matrix(0.2945 0 0 0.397 686.56 196.47)" font-size="20" font-weight="bold" fill="#222" stroke="#222" stroke-width="1.22" stroke-linejoin="round">直接控制线路</text>
<path class="u" d="M622.6 193.39H643.4M652.2 193.39H669.8"/>
<text transform="matrix(0.1682 0 0 0.2684 646.46 195.34)" font-size="20" font-weight="bold" fill="#333" stroke="#333" stroke-width="2.12">C</text>
<text transform="matrix(0.3024 0 0 0.4802 602.34 211.46)" font-size="20" font-weight="normal" fill="#222" stroke="#222" stroke-width="0.79">13</text>
<text class="cs" transform="matrix(0.293 0 0 0.3985 686.62 211.12)" font-size="20" font-weight="bold" fill="#222" stroke="#222" stroke-width="1.22" stroke-linejoin="round">消防设备供电线路</text>
<path class="u" d="M622.6 208.05H669.8"/>
<rect class="" x="510.3" y="503.2" width="253.3" height="33" rx="5.5" fill="#ffff99" stroke="#ff3d1f" stroke-width="1.4"/>
<text class="cg" transform="matrix(0.642 0 0 0.644 524.54 524.47)" font-size="20" font-weight="normal" fill="#2e2e26" stroke="#2e2e26" stroke-width="0.18" stroke-linejoin="round">补风系统已与排烟系统联动开启或关闭</text>
<path fill="#0c0c0c" d="M7 8H768.4V541.5H7ZM10 11V538.5H766.5V11Z" fill-rule="evenodd"/>
</g>
</svg>
</body></html>
